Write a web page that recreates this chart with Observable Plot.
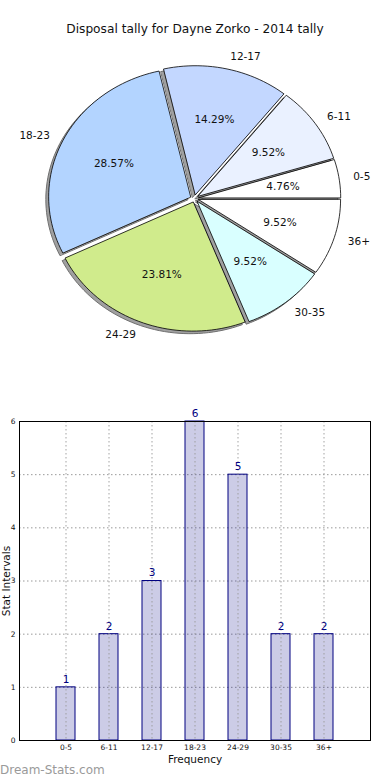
<!DOCTYPE html>
<html>
<head>
<meta charset="utf-8">
<script src="https://cdn.jsdelivr.net/npm/d3@7"></script>
<script src="https://cdn.jsdelivr.net/npm/@observablehq/plot@0.6"></script>
<style>
  html, body { margin: 0; padding: 0; background: #fff; }
  #wrap { position: relative; width: 390px; height: 780px; overflow: hidden; font-family: "DejaVu Sans", sans-serif; }
  #title { position: absolute; top: 22px; left: 0; width: 390px; text-align: center; font-size: 12.2px; color: #111; }
  #pie { position: absolute; top: 40px; left: 0; }
  #bar { position: absolute; top: 400px; left: 0; }
  #mark { position: absolute; top: 763px; left: 0px; font-size: 12px; color: #9a9a9a; }
</style>
</head>
<body>
<div id="wrap">
  <div id="title">Disposal tally for Dayne Zorko - 2014 tally</div>
  <div id="pie"></div>
  <div id="bar"></div>
  <div id="mark">Dream-Stats.com</div>
</div>
<script>
// ---- data ----
const categories = ["0-5", "6-11", "12-17", "18-23", "24-29", "30-35", "36+"];
const counts = [1, 2, 3, 6, 5, 2, 2];
const sliceColors = ["#ffffff", "#eaf1ff", "#c3d7ff", "#b3d4ff", "#d0eb8c", "#d9ffff", "#ffffff"];
const yTicks = [0, 1, 2, 3, 4, 5, 6];

// ---- pie geometry (unit-circle data space) ----
const total = d3.sum(counts);
const explode = 0.03;
const shadowOff = 0.02;
let cum = 0;
const slices = categories.map((c, i) => {
  const a0 = 2 * Math.PI * cum / total;
  cum += counts[i];
  const a1 = 2 * Math.PI * cum / total;
  const mid = (a0 + a1) / 2;
  const ox = explode * Math.cos(mid), oy = explode * Math.sin(mid);
  const n = Math.max(4, Math.ceil((a1 - a0) / (Math.PI / 90)));
  const pts = [{x: ox, y: oy}];
  for (let k = 0; k <= n; k++) {
    const a = a0 + (a1 - a0) * k / n;
    pts.push({x: ox + Math.cos(a), y: oy + Math.sin(a)});
  }
  return {
    cat: c, color: sliceColors[i], pts, mid, ox, oy,
    pct: (100 * counts[i] / total).toFixed(2) + "%"
  };
});
const labels = slices.map(s => ({
  text: s.cat,
  x: s.ox + 1.1 * Math.cos(s.mid),
  y: s.oy + 1.1 * Math.sin(s.mid)
}));
const pcts = slices.map(s => ({
  text: s.pct,
  x: s.ox + 0.6 * Math.cos(s.mid),
  y: s.oy + 0.6 * Math.sin(s.mid)
}));

const pieH = 350;
const pie = Plot.plot({
  width: 390, height: pieH,
  margin: 0,
  x: {domain: [-194 / 142, 196 / 142], range: [0, 390], axis: null},
  y: {domain: [-(pieH - 158) / 129, 158 / 129], range: [pieH, 0], axis: null},
  style: {fontFamily: "DejaVu Sans", background: "transparent", overflow: "visible"},
  marks: [
    ...slices.map(s => Plot.line(s.pts.map(p => ({x: p.x - shadowOff, y: p.y - shadowOff})), {
      x: "x", y: "y", curve: "linear-closed", fill: "#a0a0a0", stroke: "#707070", strokeWidth: 1
    })),
    ...slices.map(s => Plot.line(s.pts, {
      x: "x", y: "y", curve: "linear-closed", fill: s.color, stroke: "#000", strokeWidth: 0.8
    })),
    Plot.text(labels.filter(d => d.x >= 0), {x: "x", y: "y", text: "text", textAnchor: "start", fontSize: 10.5, fill: "#111"}),
    Plot.text(labels.filter(d => d.x < 0), {x: "x", y: "y", text: "text", textAnchor: "end", fontSize: 10.5, fill: "#111"}),
    Plot.text(pcts, {x: "x", y: "y", text: "text", textAnchor: "middle", fontSize: 10.5, fill: "#111"})
  ]
});
document.getElementById("pie").appendChild(pie);

// ---- bar chart ----
const barData = categories.map((c, i) => ({cat: c, v: counts[i]}));
const bar = Plot.plot({
  width: 390, height: 380,
  marginLeft: 19, marginRight: 20, marginTop: 21, marginBottom: 40,
  x: {domain: categories, paddingInner: 0.55, paddingOuter: 0.775, align: 0.5, label: null, tickSize: 0, tickPadding: 4},
  y: {domain: [0, 6], ticks: yTicks, tickFormat: d3.format("d"), tickSize: 0, tickPadding: 4, label: null},
  style: {fontFamily: "DejaVu Sans", fontSize: "7.5px", color: "#111", background: "transparent", overflow: "visible"},
  marks: [
    Plot.ruleY(yTicks.slice(1, -1), {stroke: "#999", strokeWidth: 1, strokeDasharray: "1.5,2.5"}),
    Plot.barY(barData, {x: "cat", y: "v", fill: "navy", fillOpacity: 0.2, stroke: "navy", strokeWidth: 1}),
    Plot.ruleX(categories, {stroke: "#999", strokeWidth: 1, strokeDasharray: "1.5,2.5", strokeOpacity: 0.9}),
    Plot.frame({stroke: "#000", strokeWidth: 1}),
    Plot.text(barData, {x: "cat", y: "v", text: d => String(d.v), dy: -8, fill: "navy", fontSize: 10.5}),
    Plot.text(["Frequency"], {frameAnchor: "bottom", dy: 15, lineAnchor: "top", textAnchor: "middle", text: d => d, fontSize: 10.5, fill: "#111"}),
    Plot.text(["Stat Intervals"], {frameAnchor: "left", dx: -13, rotate: -90, textAnchor: "middle", lineAnchor: "middle", text: d => d, fontSize: 10.5, fill: "#111"})
  ]
});
document.getElementById("bar").appendChild(bar);
</script>
</body>
</html>
